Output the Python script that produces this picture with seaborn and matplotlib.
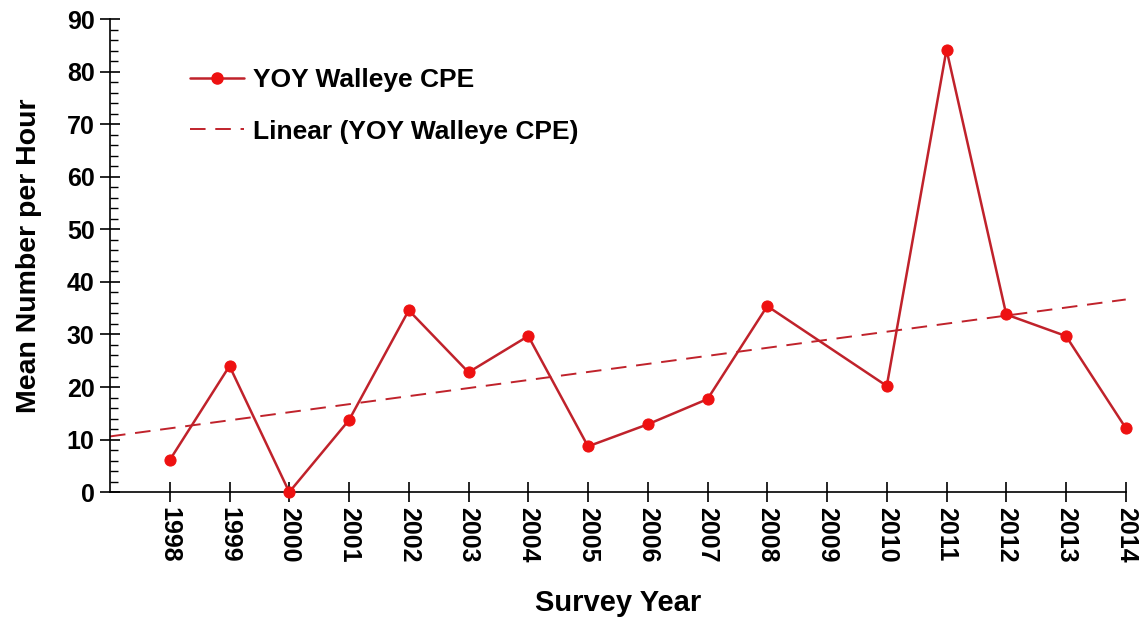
import numpy as np
import pandas as pd
import matplotlib
matplotlib.use("Agg")
import matplotlib.pyplot as plt
from matplotlib.lines import Line2D
from matplotlib.ticker import MultipleLocator
import seaborn as sns

years = [1998, 1999, 2000, 2001, 2002, 2003, 2004, 2005, 2006, 2007, 2008,
         2010, 2011, 2012, 2013, 2014]
cpe = [6.1, 24.0, 0.0, 13.7, 34.6, 22.8, 29.7, 8.7, 12.9, 17.7, 35.4,
       20.2, 84.2, 33.8, 29.7, 12.2]
tick_years = list(range(1998, 2015))

df = pd.DataFrame({"year": years, "cpe": cpe})

sns.set_style("white")
plt.rcParams['font.family'] = ['Liberation Sans', 'DejaVu Sans']
plt.rcParams['text.color'] = 'black'
plt.rcParams['axes.labelcolor'] = 'black'
plt.rcParams['xtick.color'] = 'black'
plt.rcParams['ytick.color'] = 'black'

fig = plt.figure(figsize=(11.4, 6.19), dpi=100)
ax = fig.add_axes([0.0965, 0.205, 0.891, 0.764])

line_c = "#C0222B"
mark_c = "#EE1111"
dash = (0, (8, 5))

ax.set_xlim(1997, 2014)
ax.set_ylim(0, 90)

sns.regplot(data=df, x="year", y="cpe", ax=ax, scatter=False, ci=None,
            truncate=False, color=line_c,
            line_kws=dict(linestyle=dash, linewidth=1.4, clip_on=False))
sns.lineplot(data=df, x="year", y="cpe", ax=ax, color=line_c, linewidth=1.8,
             marker="o", markersize=8, markerfacecolor=mark_c,
             markeredgecolor=mark_c, zorder=3, clip_on=False)

ax.set_xlim(1997, 2014)
ax.set_ylim(0, 90)
ax.set_xticks(tick_years)
ax.set_xticklabels([str(y) for y in tick_years], rotation=-90,
                   fontsize=18, fontweight="bold", color="black")
ax.yaxis.set_major_locator(MultipleLocator(10))
ax.yaxis.set_minor_locator(MultipleLocator(2))
for lab in ax.get_yticklabels():
    lab.set_fontsize(18)
    lab.set_fontweight("bold")
    lab.set_color("black")

ax.tick_params(axis="x", which="major", direction="inout", length=14, width=1.2,
               color="black", bottom=True, pad=4)
ax.tick_params(axis="y", which="major", direction="inout", length=14, width=1.2,
               color="black", left=True, pad=4)
ax.tick_params(axis="y", which="minor", direction="in", length=6, width=1.0,
               color="black", left=True)

for s in ["top", "right"]:
    ax.spines[s].set_visible(False)
for s in ["left", "bottom"]:
    ax.spines[s].set_color("black")
    ax.spines[s].set_linewidth(1.2)

ax.set_xlabel("Survey Year", fontsize=21, fontweight="bold", labelpad=19,
              color="black")
ax.set_ylabel("Mean Number per Hour", fontsize=20.5, fontweight="bold",
              labelpad=18, color="black")
ax.grid(False)

handles = [
    Line2D([0], [0], color=line_c, linewidth=1.8, marker="o", markersize=8,
           markerfacecolor=mark_c, markeredgecolor=mark_c),
    Line2D([0], [0], color=line_c, linewidth=1.4, linestyle=dash),
]
leg = ax.legend(handles, ["YOY Walleye CPE", "Linear (YOY Walleye CPE)"],
                loc="upper left", bbox_to_anchor=(0.055, 0.946), frameon=False,
                prop=dict(size=19, weight="bold"), handlelength=2.05,
                labelspacing=1.03, handletextpad=0.35)
for t in leg.get_texts():
    t.set_color("black")

fig.savefig("out.png", dpi=100)
